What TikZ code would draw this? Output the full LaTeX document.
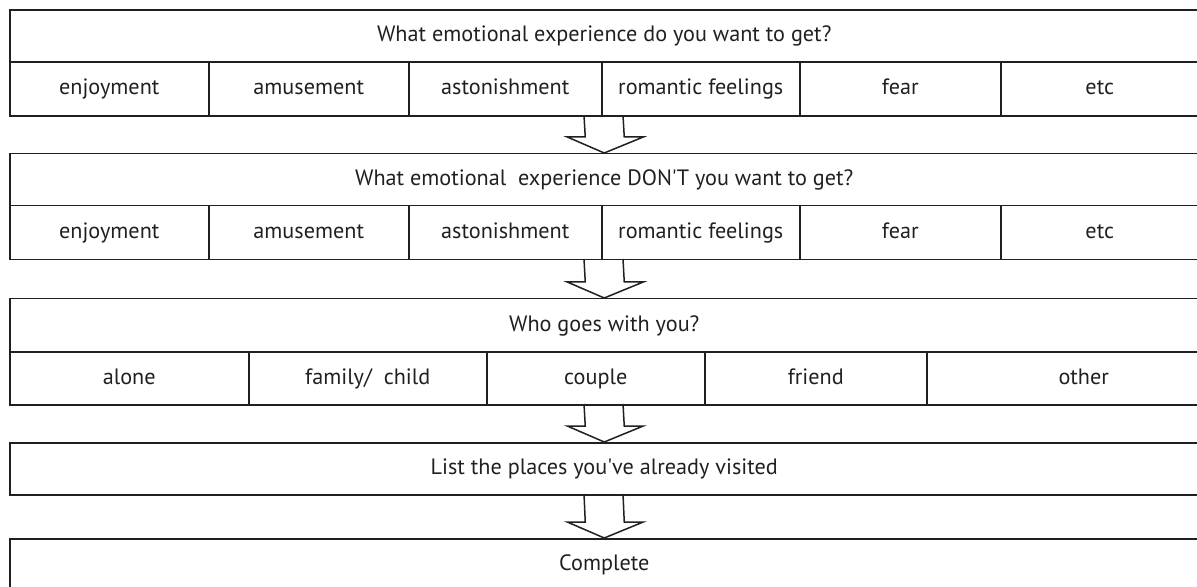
\documentclass[tikz,border=0pt]{standalone}
\usepackage{fontspec}
\setmainfont{PT Sans}
\usepackage{xcolor}
\usetikzlibrary{calc,positioning}
\definecolor{ink}{HTML}{231F20}
\tikzset{%
	qbox/.style   = {draw=ink, rectangle, anchor=north west, inner sep=0pt, minimum height=26pt, text height=1.6ex, text depth=0.45ex, text centered, text=ink},
	cell/.style   = {draw=ink, rectangle, anchor=north west, inner sep=0pt, minimum height=27pt, text height=1.6ex, text depth=0.45ex, text centered, text=ink},
	hollow/.style = {draw=ink, to path={($(\tikztostart)+(-19,0)$) -- ($(\tikztotarget)+(-19,-16)$) -- ($(\tikztotarget)+(-37,-16)$) -- (\tikztotarget) -- ($(\tikztotarget)+(39,-16)$) -- ($(\tikztotarget)+(20,-16)$) -- ($(\tikztostart)+(20,0)$)}},
}
\newcommand{\q}{\textquotesingle}

\begin{document}
\begin{tikzpicture}[x=0.5pt,y=-0.5pt,line width=0.75pt,font=\fontsize{11.1}{14}\selectfont]
	\useasboundingbox (0,0) rectangle (1197,587);
	% what you want
	\node[qbox, minimum width=594.5pt] (h1) at (9,9.5) {What emotional experience do you want to get?};
	\foreach \a/\b/\t [count=\i] in {9/208/enjoyment, 208/408/amusement, 408/601/astonishment, 601/799/romantic feelings, 799/1000/fear, 1000/1198/etc}
		\node[cell, minimum width={(\b-\a)*0.5pt}] (w\i) at (\a,61.5) {\t};
	\coordinate (a1) at (603,115.5);
	% what you don't want
	\node[qbox, minimum width=594.5pt] (h2) at (9,153) {What emotional~ experience DON\q T you want to get?};
	\foreach \a/\b/\t [count=\i] in {9/208/enjoyment, 208/408/amusement, 408/601/astonishment, 601/799/romantic feelings, 799/1000/fear, 1000/1198/etc}
		\node[cell, minimum width={(\b-\a)*0.5pt}] (d\i) at (\a,205) {\t};
	\coordinate (a2) at (603,259);
	% company
	\node[qbox, minimum width=594.5pt, minimum height=26.5pt] (h3) at (9,298) {Who goes with you?};
	\foreach \a/\b/\t [count=\i] in {9/248/alone, 248/486/{family/~ child}, 486/704/couple, 704/926/friend, 926/1240/other}
		\node[cell, minimum width={(\b-\a)*0.5pt}, minimum height=26.5pt] (c\i) at (\a,351) {\t};
	\coordinate (a3) at (603,404);
	% visited
	\node[qbox, minimum width=594.5pt] (h4) at (9,442) {List the places you\q ve already visited};
	\coordinate (a4) at (603,494);
	\node[qbox, minimum width=594.5pt] (h5) at (9,538) {Complete};

	\draw[hollow] (a1) to (h2.north);
	\draw[hollow] (a2) to (h3.north);
	\draw[hollow] (a3) to (h4.north);
	\draw[hollow] (a4) to (h5.north);
\end{tikzpicture}
\end{document}
